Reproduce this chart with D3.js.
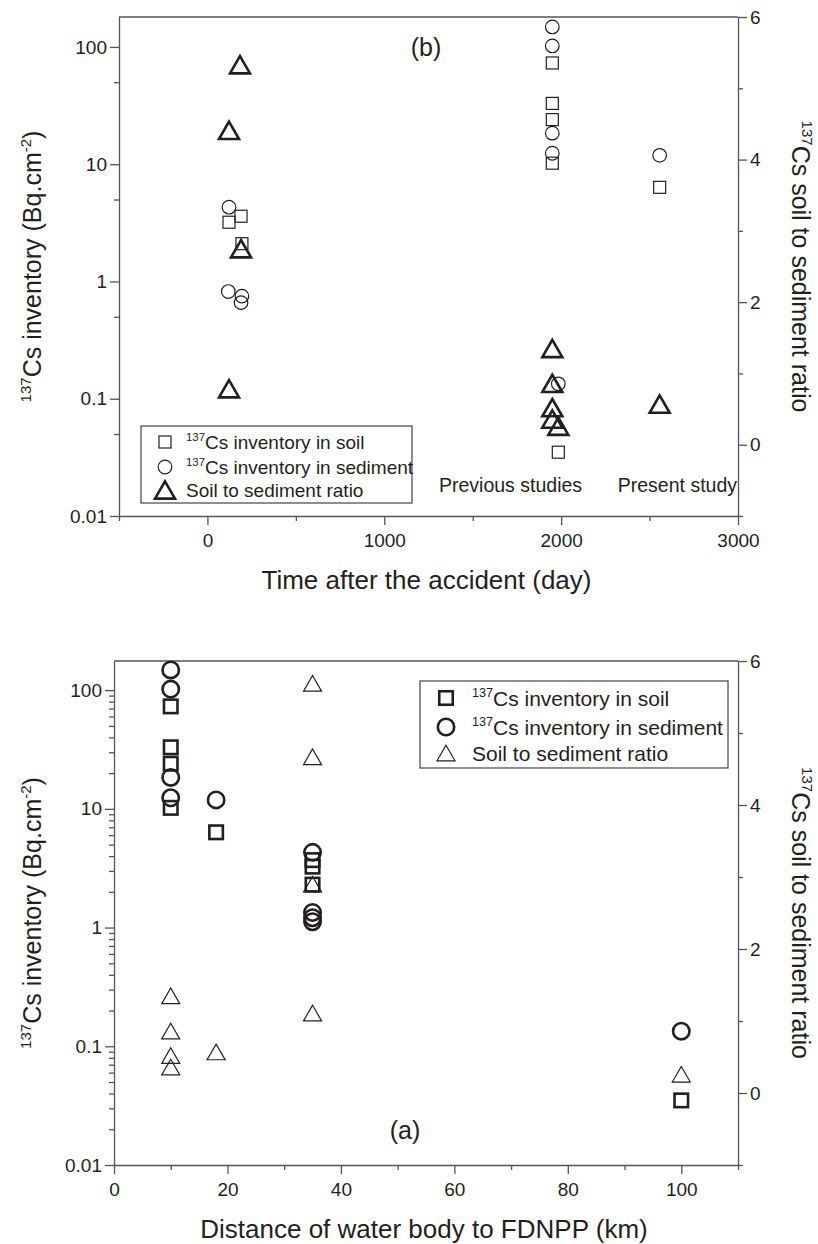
<!DOCTYPE html>
<html>
<head>
<meta charset="utf-8">
<script src="https://cdn.jsdelivr.net/npm/d3@7"></script>
<style>
  body { margin: 0; background: #fff; }
  text { font-family: "Liberation Sans", Arial, sans-serif; }
</style>
</head>
<body>
<div id="chart"></div>
<script>
// ---- panel (b): time after the accident (day) ----
const soilDay = [122, 190, 195, 1950, 1950, 1950, 1950, 1984, 2557];
const soilInvB = [3.2, 3.6, 2.1, 73, 33, 24, 10.2, 0.035, 6.35];
const sedDay = [122, 118, 195, 190, 1950, 1950, 1950, 1950, 1984, 2557];
const sedInvB = [4.3, 0.82, 0.75, 0.66, 148, 102, 18.4, 12.4, 0.134, 11.9];
const ratioDay = [184, 122, 190, 122, 1950, 1950, 1950, 1950, 1984, 2557];
const ratioB = [5.33, 4.41, 2.75, 0.785, 1.35, 0.86, 0.52, 0.36, 0.26, 0.57];

// ---- panel (a): distance of water body to FDNPP (km) ----
const soilKm = [35, 35, 35, 10, 10, 10, 10, 100, 18];
const soilInvA = [3.7, 3.26, 2.3, 73, 33, 24, 10.2, 0.035, 6.35];
const sedKm = [35, 35, 35, 35, 10, 10, 10, 10, 100, 18];
const sedInvA = [4.3, 1.34, 1.21, 1.12, 148, 102, 18.4, 12.4, 0.134, 11.9];
const ratioKm = [35, 35, 35, 35, 10, 10, 10, 10, 100, 18];
const ratioA = [5.69, 4.67, 2.9, 1.11, 1.35, 0.86, 0.52, 0.36, 0.26, 0.57];

const dayTicks = [0, 1000, 2000, 3000];
const dayMinor = [-500, 500, 1500, 2500];
const kmTicks = [0, 20, 40, 60, 80, 100];
const kmMinor = [10, 30, 50, 70, 90, 110];
const invTicks = [0.01, 0.1, 1, 10, 100];
const invMinorB = [0.05, 0.5, 5, 50];
const ratioTicks = [0, 2, 4, 6];
const ratioMinor = [-1, 1, 3, 5];

const legendLabels = ["Cs inventory in soil", "Cs inventory in sediment", " Soil to sediment ratio"];

const ink = "#231f20";
const axisCol = "#555";

const svg = d3.select("#chart").append("svg")
  .attr("width", 818)
  .attr("height", 1244);

function triPath(w) {
  const h = w * Math.sqrt(3) / 2;
  return `M0,${-h / 2}L${w / 2},${h / 2}L${-w / 2},${h / 2}Z`;
}

function styleAxis(g, size) {
  g.attr("font-size", size)
    .attr("font-family", '"Liberation Sans", Arial, sans-serif')
    .attr("color", ink);
  g.selectAll("line,path").attr("stroke", axisCol).attr("stroke-width", 1.3);
}

function drawPanel(p) {
  const x = d3.scaleLinear().domain(p.xDomain).range([p.left, p.right]);
  const yL = d3.scaleLog().domain(p.invDomain).range([p.bottom, p.top]);
  const yR = d3.scaleLinear().domain([-1, 6]).range([p.bottom, p.top]);
  const g = svg.append("g");

  // left log axis
  g.append("g").attr("transform", `translate(${p.left},0)`)
    .call(d3.axisLeft(yL).tickValues(invTicks).tickFormat(d3.format("~g"))
      .tickSize(9).tickPadding(3).tickSizeOuter(0))
    .call(a => styleAxis(a, 19));
  const minorL = p.allMinor
    ? yL.ticks().filter(v => !invTicks.includes(v))
    : invMinorB;
  g.append("g").attr("transform", `translate(${p.left},0)`)
    .call(d3.axisLeft(yL).tickValues(minorL).tickFormat("").tickSize(5).tickSizeOuter(0))
    .call(a => { a.select(".domain").remove(); styleAxis(a, 19); });

  // right ratio axis
  g.append("g").attr("transform", `translate(${p.right},0)`)
    .call(d3.axisRight(yR).tickValues(ratioTicks).tickFormat(d3.format("d"))
      .tickSize(9).tickPadding(3).tickSizeOuter(0))
    .call(a => styleAxis(a, 19));
  g.append("g").attr("transform", `translate(${p.right},0)`)
    .call(d3.axisRight(yR).tickValues(ratioMinor).tickFormat("").tickSize(5).tickSizeOuter(0))
    .call(a => { a.select(".domain").remove(); styleAxis(a, 19); });

  // bottom axis
  g.append("g").attr("transform", `translate(0,${p.bottom})`)
    .call(d3.axisBottom(x).tickValues(p.xTicks).tickFormat(d3.format("d"))
      .tickSize(9).tickPadding(9).tickSizeOuter(0))
    .call(a => styleAxis(a, 19));
  g.append("g").attr("transform", `translate(0,${p.bottom})`)
    .call(d3.axisBottom(x).tickValues(p.xMinor).tickFormat("").tickSize(5).tickSizeOuter(0))
    .call(a => { a.select(".domain").remove(); styleAxis(a, 19); });

  // top frame line
  g.append("line")
    .attr("x1", p.left).attr("x2", p.right)
    .attr("y1", p.top).attr("y2", p.top)
    .attr("stroke", axisCol).attr("stroke-width", 1.3);

  const m = p.marks;
  // squares
  g.selectAll(".sq").data(d3.zip(p.soilX, p.soilY)).join("rect")
    .attr("x", d => x(d[0]) - m.sq / 2).attr("y", d => yL(d[1]) - m.sq / 2)
    .attr("width", m.sq).attr("height", m.sq)
    .attr("fill", "none").attr("stroke", ink).attr("stroke-width", m.sqW);
  // circles
  g.selectAll(".ci").data(d3.zip(p.sedX, p.sedY)).join("circle")
    .attr("cx", d => x(d[0])).attr("cy", d => yL(d[1])).attr("r", m.r)
    .attr("fill", "none").attr("stroke", ink).attr("stroke-width", m.sqW);
  // triangles
  g.selectAll(".tr").data(d3.zip(p.ratioX, p.ratioY)).join("path")
    .attr("transform", d => `translate(${x(d[0])},${yR(d[1])})`)
    .attr("d", triPath(m.tri))
    .attr("fill", "none").attr("stroke", ink).attr("stroke-width", m.triW)
    .attr("stroke-linejoin", "miter");

  // axis titles
  g.append("text")
    .attr("x", (p.left + p.right) / 2 - 2).attr("y", p.bottom + 73)
    .attr("text-anchor", "middle").attr("font-size", 26).attr("fill", ink)
    .text(p.xTitle);

  const cy = (p.top + p.bottom) / 2;
  const lt = g.append("text")
    .attr("transform", `translate(41,${cy}) rotate(-90)`)
    .attr("text-anchor", "middle").attr("font-size", 25).attr("fill", ink);
  lt.append("tspan").attr("font-size", 15).attr("dy", -10).text("137");
  lt.append("tspan").attr("dy", 10).text("Cs inventory (Bq.cm");
  lt.append("tspan").attr("font-size", 15).attr("dy", -10).text("-2");
  lt.append("tspan").attr("dy", 10).text(")");

  const rt = g.append("text")
    .attr("transform", `translate(792,${cy}) rotate(90)`)
    .attr("text-anchor", "middle").attr("font-size", 25).attr("fill", ink);
  rt.append("tspan").attr("font-size", 15).attr("dy", -10).text("137");
  rt.append("tspan").attr("dy", 10).text("Cs soil to sediment ratio");

  // legend
  const L = p.legend;
  const lg = g.append("g");
  lg.append("rect")
    .attr("x", L.x).attr("y", L.y).attr("width", L.w).attr("height", L.h)
    .attr("fill", "#fff").attr("stroke", "#444").attr("stroke-width", 1.2);
  legendLabels.forEach((lab, i) => {
    const ry = L.rows[i];
    if (i === 0) {
      lg.append("rect")
        .attr("x", L.sx - L.sq / 2).attr("y", ry - L.sq / 2)
        .attr("width", L.sq).attr("height", L.sq)
        .attr("fill", "none").attr("stroke", ink).attr("stroke-width", m.sqW);
    } else if (i === 1) {
      lg.append("circle").attr("cx", L.sx).attr("cy", ry).attr("r", L.r)
        .attr("fill", "none").attr("stroke", ink).attr("stroke-width", m.sqW);
    } else {
      lg.append("path").attr("transform", `translate(${L.sx},${ry})`)
        .attr("d", triPath(L.tri))
        .attr("fill", "none").attr("stroke", ink).attr("stroke-width", m.triW);
    }
    const t = lg.append("text")
      .attr("x", L.tx).attr("y", ry + L.fs * 0.36)
      .attr("font-size", L.fs).attr("fill", ink);
    if (i < 2) {
      t.append("tspan").attr("font-size", L.fs * 0.6).attr("dy", -L.fs * 0.4).text("137");
      t.append("tspan").attr("dy", L.fs * 0.4).text(lab);
    } else {
      t.text(lab);
    }
  });

  return { x, yL, yR, g };
}

// panel (b): time after the accident
const pb = drawPanel({
  left: 119, right: 738, top: 17, bottom: 516,
  xDomain: [-500, 3000], invDomain: [0.01, 180],
  xTicks: dayTicks, xMinor: dayMinor, allMinor: false,
  soilX: soilDay, soilY: soilInvB, sedX: sedDay, sedY: sedInvB,
  ratioX: ratioDay, ratioY: ratioB,
  marks: { sq: 12, r: 6.8, sqW: 1.2, tri: 20, triW: 2.6 },
  xTitle: "Time after the accident (day)",
  legend: { x: 141, y: 426, w: 271, h: 77, rows: [442, 467, 490], sx: 165, tx: 186,
            sq: 12, r: 6.8, tri: 20, fs: 19 }
});
pb.g.append("text").attr("x", 426).attr("y", 56).attr("text-anchor", "middle")
  .attr("font-size", 25).attr("fill", ink).text("(b)");
pb.g.append("text").attr("x", 439).attr("y", 492)
  .attr("font-size", 19.5).attr("fill", ink).text("Previous studies");
pb.g.append("text").attr("x", 737).attr("y", 492).attr("text-anchor", "end")
  .attr("font-size", 19.5).attr("fill", ink).text("Present study");

// panel (a): distance to FDNPP
const pa = drawPanel({
  left: 114, right: 738, top: 661, bottom: 1165,
  xDomain: [0, 110], invDomain: [0.01, 176],
  xTicks: kmTicks, xMinor: kmMinor, allMinor: true,
  soilX: soilKm, soilY: soilInvA, sedX: sedKm, sedY: sedInvA,
  ratioX: ratioKm, ratioY: ratioA,
  marks: { sq: 13.5, r: 8.2, sqW: 2.6, tri: 18, triW: 1.2 },
  xTitle: "Distance of water body to FDNPP (km)",
  legend: { x: 420, y: 681, w: 308, h: 87, rows: [698, 727, 753], sx: 446, tx: 472,
            sq: 13.5, r: 8.2, tri: 18, fs: 21 }
});
pa.g.append("text").attr("x", 405).attr("y", 1139).attr("text-anchor", "middle")
  .attr("font-size", 25).attr("fill", ink).text("(a)");
</script>
</body>
</html>
